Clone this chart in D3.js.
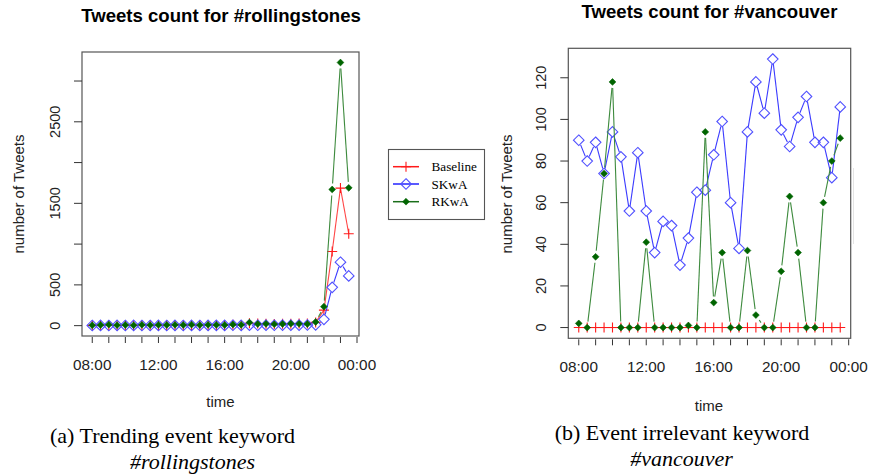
<!DOCTYPE html>
<html><head><meta charset="utf-8">
<script src="https://cdn.jsdelivr.net/npm/d3@7"></script>
<style>
body{margin:0;background:#fff;}
svg{display:block;}
</style></head>
<body>
<svg id="c" width="870" height="476"></svg>
<script>
// ---- data ----
const times = ["08:00","08:30","09:00","09:30","10:00","10:30","11:00","11:30",
  "12:00","12:30","13:00","13:30","14:00","14:30","15:00","15:30",
  "16:00","16:30","17:00","17:30","18:00","18:30","19:00","19:30",
  "20:00","20:30","21:00","21:30","22:00","22:30","23:00","23:30"];
const seriesNames = ["Baseline","SKwA","RKwA"];

// #rollingstones
const rsBaseline = [3,5,4,3,5,4,6,3,4,5,4,6,5,4,5,6,8,10,9,30,25,22,20,24,22,26,25,40,190,909,1687,1127];
const rsSKwA     = [2,3,2,3,2,3,2,2,3,2,3,2,3,2,3,4,3,5,4,6,5,6,5,7,6,7,8,10,77,470,778,610];
const rsRKwA     = [5,8,12,6,8,5,10,7,9,8,10,8,12,7,10,9,8,14,10,38,20,22,18,20,24,22,20,45,233,1670,3227,1690];

// #vancouver
const vaBaseline = [0,0,0,0,0,0,0,0,0,0,0,0,0,0,0,0,0,0,0,0,0,0,0,0,0,0,0,0,0,0,0,0];
const vaSKwA     = [90,80,89,74,94,82,56,84,56,36,51,49,30,43,65,66,83,99,60,38,94,118,103,129,95,87,101,111,89,89,72,106];
const vaRKwA     = [2,0,34,74,118,0,0,0,41,0,0,0,0,1,0,94,12,36,0,0,37,6,0,0,27,63,36,0,0,60,80,91];

const xTickLabels = ["08:00","12:00","16:00","20:00","00:00"];
const xTickHours  = [8,12,16,20,24];
const xMinorHours = [8,9,10,11,12,13,14,15,16,17,18,19,20,21,22,23,24];

const rsYTicks  = [0,500,1000,1500,2000,2500,3000];
const rsYLabels = [0,500,1500,2500];
const vaYTicks  = [0,20,40,60,80,100,120];
const vaYLabels = [0,20,40,60,80,100,120];

const titles = ["Tweets count for #rollingstones","Tweets count for #vancouver"];
const captions = [["(a) Trending event keyword","#rollingstones"],["(b) Event irrelevant keyword","#vancouver"]];

// ---- drawing ----
const svg = d3.select("#c");
const hourOf = t => { const [h,m] = t.split(":").map(Number); return h + m/60; };
const hours = times.map(hourOf);

const colors = {Baseline:"#ff1a1a", SKwA:"#2323ff", RKwA:"#006400"};
const lineColors = {Baseline:"#ff4545", SKwA:"#3a3aff", RKwA:"#3d8a3d"};
const gaps = {Baseline:0, SKwA:5, RKwA:6};

function pad4(ext){ const r = ext[1]-ext[0]; return [ext[0]-0.04*r, ext[1]+0.04*r]; }

function drawMarker(g, name, x, y){
  if(name==="Baseline"){
    g.append("path").attr("d",`M${x-5},${y}H${x+5}M${x},${y-5}V${y+5}`)
     .attr("stroke",colors.Baseline).attr("stroke-width",1.1).attr("fill","none");
  } else if(name==="SKwA"){
    const s=5.3;
    g.append("path").attr("d",`M${x},${y-s}L${x+s},${y}L${x},${y+s}L${x-s},${y}Z`)
     .attr("stroke","#5050ff").attr("stroke-width",1.1).attr("fill","none");
  } else {
    const s=3.4;
    g.append("path").attr("d",`M${x},${y-s}L${x+s},${y}L${x},${y+s}L${x-s},${y}Z`)
     .attr("fill",colors.RKwA).attr("stroke",colors.RKwA).attr("stroke-width",0.6);
  }
}

function drawPanel(cfg){
  const g = svg.append("g");
  const x = d3.scaleLinear().domain(pad4(d3.extent(hours))).range([cfg.left,cfg.right]);
  const allVals = cfg.series.flatMap(s=>s.values);
  const y = d3.scaleLinear().domain(pad4(d3.extent(allVals))).range([cfg.bottom,cfg.top]);

  // series
  cfg.series.forEach(s=>{
    const gap = gaps[s.name];
    const pts = s.values.map((v,i)=>[x(hours[i]), y(v)]);
    const lg = g.append("g");
    for(let i=0;i<pts.length-1;i++){
      const [x1,y1]=pts[i],[x2,y2]=pts[i+1];
      const dx=x2-x1, dy=y2-y1, L=Math.hypot(dx,dy);
      if(L>2*gap){
        const ux=dx/L, uy=dy/L;
        lg.append("line").attr("x1",x1+ux*gap).attr("y1",y1+uy*gap)
          .attr("x2",x2-ux*gap).attr("y2",y2-uy*gap)
          .attr("stroke",lineColors[s.name]).attr("stroke-width",1.1);
      }
    }
    pts.forEach(p=>drawMarker(lg,s.name,p[0],p[1]));
  });

  // box
  g.append("rect").attr("x",cfg.left).attr("y",cfg.top)
   .attr("width",cfg.right-cfg.left).attr("height",cfg.bottom-cfg.top)
   .attr("fill","none").attr("stroke","#555").attr("stroke-width",1.2);

  // y axis
  const ya = g.append("g");
  cfg.yTicks.forEach(t=>{
    ya.append("line").attr("x1",cfg.left-8).attr("x2",cfg.left).attr("y1",y(t)).attr("y2",y(t))
      .attr("stroke","#333").attr("stroke-width",1);
  });
  cfg.yLabels.forEach(t=>{
    ya.append("text").attr("transform",`translate(${cfg.ylabX},${y(t)}) rotate(-90)`)
      .attr("text-anchor","middle").attr("dominant-baseline","central")
      .attr("font-family","Liberation Sans, Arial, sans-serif").attr("font-size",14.5).attr("fill","#222")
      .text(d3.format("d")(t));
  });
  // x axis
  const xa = g.append("g");
  xMinorHours.forEach(h=>{
    xa.append("line").attr("x1",x(h)).attr("x2",x(h)).attr("y1",cfg.bottom+1).attr("y2",cfg.bottom+7)
      .attr("stroke","#333").attr("stroke-width",1);
  });
  xTickHours.forEach((h,i)=>{
    xa.append("text").attr("x",x(h)).attr("y",cfg.xlabY).attr("text-anchor","middle")
      .attr("dominant-baseline","central")
      .attr("font-family","Liberation Sans, Arial, sans-serif").attr("font-size",15.3).attr("fill","#222")
      .text(xTickLabels[i]);
  });

  // axis titles
  g.append("text").attr("x",cfg.timeX).attr("y",cfg.timeY).attr("text-anchor","middle")
   .attr("dominant-baseline","central")
   .attr("font-family","Liberation Sans, Arial, sans-serif").attr("font-size",15).attr("fill","#222").text("time");
  g.append("text").attr("transform",`translate(${cfg.ytitleX},194) rotate(-90)`).attr("text-anchor","middle")
   .attr("dominant-baseline","central")
   .attr("font-family","Liberation Sans, Arial, sans-serif").attr("font-size",15).attr("fill","#222").text("number of Tweets");

  // title
  g.append("text").attr("x",cfg.titleX).attr("y",cfg.titleY).attr("text-anchor","middle")
   .attr("dominant-baseline","central")
   .attr("font-family","Liberation Sans, Arial, sans-serif").attr("font-weight","bold").attr("font-size",18.6)
   .attr("fill","#000").text(cfg.title);

  // caption
  g.append("text").attr("x",cfg.cap1X).attr("y",cfg.cap1Y).attr("text-anchor","middle")
   .attr("dominant-baseline","central")
   .attr("font-family","Liberation Serif, Times New Roman, serif").attr("font-size",22).attr("fill","#000").text(cfg.caption[0]);
  g.append("text").attr("x",cfg.cap2X).attr("y",cfg.cap2Y).attr("text-anchor","middle")
   .attr("dominant-baseline","central").attr("font-style","italic")
   .attr("font-family","Liberation Serif, Times New Roman, serif").attr("font-size",22).attr("fill","#000").text(cfg.caption[1]);
}

drawPanel({
  left:82, right:359, top:52, bottom:336,
  series:[{name:"Baseline",values:rsBaseline},{name:"SKwA",values:rsSKwA},{name:"RKwA",values:rsRKwA}],
  yTicks:rsYTicks, yLabels:rsYLabels, ylabX:55, xlabY:364.5,
  timeX:220.5, timeY:401.5, ytitleX:18,
  title:titles[0], titleX:221, titleY:15,
  caption:captions[0], cap1X:172.5, cap1Y:435, cap2X:192.5, cap2Y:461.5
});
drawPanel({
  left:568.3, right:850.7, top:48.3, bottom:338.3,
  series:[{name:"Baseline",values:vaBaseline},{name:"SKwA",values:vaSKwA},{name:"RKwA",values:vaRKwA}],
  yTicks:vaYTicks, yLabels:vaYLabels, ylabX:541, xlabY:366.5,
  timeX:709, timeY:405, ytitleX:506,
  title:titles[1], titleX:709.5, titleY:11.5,
  caption:captions[1], cap1X:682, cap1Y:432, cap2X:681.5, cap2Y:458.5
});

// legend
const lg = svg.append("g");
lg.append("rect").attr("x",388.5).attr("y",149.5).attr("width",96).attr("height",70)
  .attr("fill","#fff").attr("stroke","#555").attr("stroke-width",1.1);
seriesNames.forEach((n,i)=>{
  const yy = [166.7,184,201.7][i];
  lg.append("line").attr("x1",393).attr("x2",419).attr("y1",yy).attr("y2",yy)
    .attr("stroke",colors[n]==="#006400"?"#1a6e1a":colors[n]).attr("stroke-width",1.5);
  drawMarker(lg,n,406,yy);
  lg.append("text").attr("x",431.5).attr("y",yy).attr("dominant-baseline","central")
    .attr("font-family","Liberation Serif, Times New Roman, serif").attr("font-size",13.2).attr("fill","#000").text(n);
});

// faint edge artifact at right
svg.append("line").attr("x1",853.5).attr("x2",853.5).attr("y1",168).attr("y2",244)
  .attr("stroke","#e4e4e4").attr("stroke-width",1);
</script>
</body></html>
